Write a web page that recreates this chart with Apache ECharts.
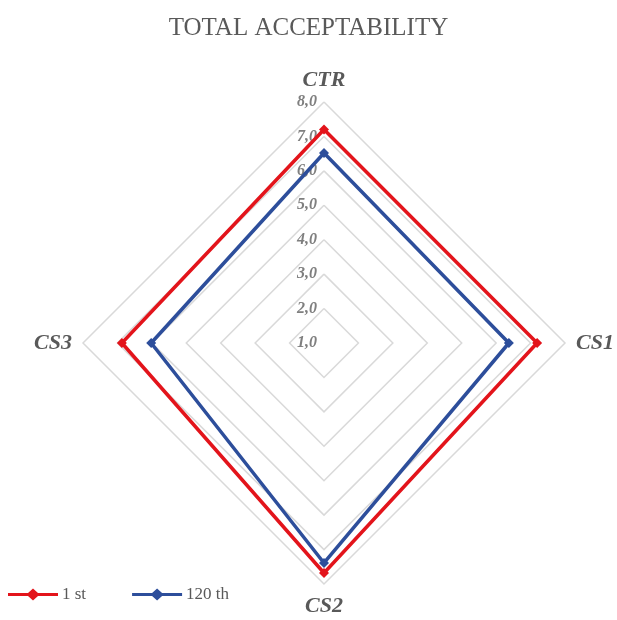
<!DOCTYPE html>
<html>
<head>
<meta charset="utf-8">
<script src="https://cdn.jsdelivr.net/npm/echarts@6/dist/echarts.min.js"></script>
<style>
  html, body { margin: 0; padding: 0; background: #ffffff; }
  #chart { width: 617px; height: 620px; }
</style>
</head>
<body>
<div id="chart"></div>
<script>
// Radar axes, in drawing order (counter-clockwise from the top)
const axes = ['CTR', 'CS3', 'CS2', 'CS1'];
const scaleMin = 1;
const scaleMax = 8;

// Scores per storage point, same order as the axes
const seriesNames = ['1 st', '120 th'];
const firstDay = [7.2, 6.87, 7.68, 7.19];
const day120 = [6.52, 6.02, 7.39, 6.37];

const colors = ['#e3141b', '#2d4e9b'];
const serif = '"Liberation Serif", "Times New Roman", serif';

// Legend icon: a short line with a diamond in the middle
const lineDiamond = 'path://M0,5.5 L20,5.5 L25,1 L30,5.5 L50,5.5 L50,8.5 L30,8.5 L25,13 L20,8.5 L0,8.5 Z';

const chart = echarts.init(document.getElementById('chart'));

chart.setOption({
  backgroundColor: '#ffffff',
  animation: false,
  title: {
    text: 'TOTAL ACCEPTABILITY',
    left: 'center',
    top: 11,
    textStyle: { fontFamily: serif, fontSize: 25, fontWeight: 'normal', color: '#595959' }
  },
  legend: {
    left: 3,
    top: 581,
    itemWidth: 50,
    itemHeight: 14,
    itemGap: 46,
    data: seriesNames.map((n, i) => ({ name: n, icon: lineDiamond, itemStyle: { color: colors[i] } })),
    textStyle: { fontFamily: serif, fontSize: 17, color: '#595959', padding: [0, 0, 0, -1] }
  },
  radar: {
    center: [324, 343],
    radius: 241,
    startAngle: 90,
    shape: 'polygon',
    splitNumber: 7,
    nameGap: 11,
    axisName: {
      fontFamily: serif,
      fontSize: 22,
      fontWeight: 'bold',
      fontStyle: 'italic',
      color: '#595959'
    },
    indicator: axes.map((a, i) => {
      const ind = { name: a, min: scaleMin, max: scaleMax };
      if (i === 0) {
        ind.axisLabel = {
          show: true,
          fontFamily: serif,
          fontSize: 16,
          fontStyle: 'italic',
          fontWeight: 'bold',
          color: '#7f7f7f',
          margin: 7,
          formatter: v => v.toFixed(1).replace('.', ',')
        };
      }
      return ind;
    }),
    axisLine: { show: false },
    axisTick: { show: false },
    axisLabel: { show: false },
    splitLine: { lineStyle: { color: '#d9d9d9', width: 1.5 } },
    splitArea: { show: false }
  },
  series: [{
    type: 'radar',
    data: [
      {
        name: seriesNames[0],
        value: firstDay,
        symbol: 'diamond',
        symbolSize: 10,
        lineStyle: { color: colors[0], width: 3.5 },
        itemStyle: { color: colors[0] }
      },
      {
        name: seriesNames[1],
        value: day120,
        symbol: 'diamond',
        symbolSize: 10,
        lineStyle: { color: colors[1], width: 3.5 },
        itemStyle: { color: colors[1] }
      }
    ]
  }]
});
</script>
</body>
</html>
